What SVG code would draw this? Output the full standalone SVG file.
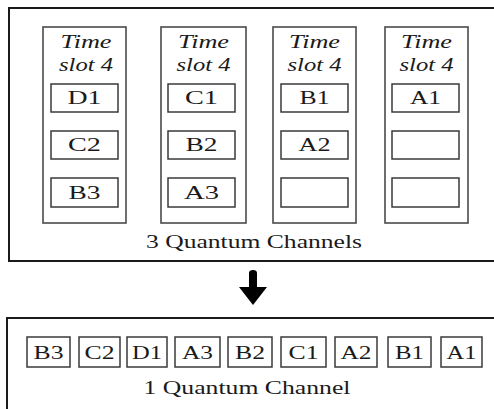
<svg xmlns="http://www.w3.org/2000/svg" width="494" height="409" viewBox="0 0 494 409">
<style>
.outer{fill:#fff;stroke:#1a1a1a;stroke-width:2}
.col{fill:#fff;stroke:#4a4a4a;stroke-width:1.6}
.cell{fill:#fff;stroke:#3a3a3a;stroke-width:1.5}
text{font-family:'Liberation Serif','Times New Roman','DejaVu Serif',serif;font-size:18px;fill:#1a1a1a;text-anchor:middle}
.it{font-style:italic}
</style>
<rect width="494" height="409" fill="#fff"/>
<g id="top-box">
<rect class="outer" x="9" y="8" width="500" height="253"/>
<text x="254" y="248" textLength="216" lengthAdjust="spacingAndGlyphs">3 Quantum Channels</text>
</g>
<g id="column-1">
<rect class="col" x="43" y="27" width="83" height="196"/>
<text class="it" x="86" y="48" textLength="51" lengthAdjust="spacingAndGlyphs">Time</text>
<text class="it" x="86" y="71" textLength="54" lengthAdjust="spacingAndGlyphs">slot 4</text>
<rect class="cell" x="51" y="84" width="67" height="28"/>
<text x="84.5" y="104" textLength="34" lengthAdjust="spacingAndGlyphs">D1</text>
<rect class="cell" x="51" y="131" width="67" height="28"/>
<text x="84.5" y="151" textLength="33" lengthAdjust="spacingAndGlyphs">C2</text>
<rect class="cell" x="51" y="178" width="67" height="29"/>
<text x="84.5" y="199" textLength="32" lengthAdjust="spacingAndGlyphs">B3</text>
</g>
<g id="column-2">
<rect class="col" x="161" y="27" width="85" height="196"/>
<text class="it" x="203.5" y="48" textLength="51" lengthAdjust="spacingAndGlyphs">Time</text>
<text class="it" x="203.5" y="71" textLength="54" lengthAdjust="spacingAndGlyphs">slot 4</text>
<rect class="cell" x="168" y="84" width="67" height="28"/>
<text x="201.5" y="104" textLength="33" lengthAdjust="spacingAndGlyphs">C1</text>
<rect class="cell" x="168" y="131" width="67" height="28"/>
<text x="201.5" y="151" textLength="32" lengthAdjust="spacingAndGlyphs">B2</text>
<rect class="cell" x="168" y="178" width="67" height="29"/>
<text x="201.5" y="199" textLength="35" lengthAdjust="spacingAndGlyphs">A3</text>
</g>
<g id="column-3">
<rect class="col" x="273" y="27" width="83" height="196"/>
<text class="it" x="314.5" y="48" textLength="51" lengthAdjust="spacingAndGlyphs">Time</text>
<text class="it" x="314.5" y="71" textLength="54" lengthAdjust="spacingAndGlyphs">slot 4</text>
<rect class="cell" x="281" y="84" width="67" height="28"/>
<text x="314.5" y="104" textLength="30" lengthAdjust="spacingAndGlyphs">B1</text>
<rect class="cell" x="281" y="131" width="67" height="28"/>
<text x="314.5" y="151" textLength="32" lengthAdjust="spacingAndGlyphs">A2</text>
<rect class="cell" x="281" y="178" width="67" height="29"/>
</g>
<g id="column-4">
<rect class="col" x="385" y="27" width="83" height="196"/>
<text class="it" x="426.5" y="48" textLength="51" lengthAdjust="spacingAndGlyphs">Time</text>
<text class="it" x="426.5" y="71" textLength="54" lengthAdjust="spacingAndGlyphs">slot 4</text>
<rect class="cell" x="392" y="84" width="67" height="28"/>
<text x="425.5" y="104" textLength="31" lengthAdjust="spacingAndGlyphs">A1</text>
<rect class="cell" x="392" y="131" width="67" height="28"/>
<rect class="cell" x="392" y="178" width="67" height="29"/>
</g>
<g id="bottom-box">
<rect class="outer" x="7" y="318" width="500" height="100"/>
<rect class="cell" x="27" y="337" width="43" height="30"/>
<text x="48.5" y="359" textLength="30" lengthAdjust="spacingAndGlyphs">B3</text>
<rect class="cell" x="79" y="337" width="41" height="30"/>
<text x="99.5" y="359" textLength="30" lengthAdjust="spacingAndGlyphs">C2</text>
<rect class="cell" x="127" y="337" width="40" height="30"/>
<text x="147" y="359" textLength="30" lengthAdjust="spacingAndGlyphs">D1</text>
<rect class="cell" x="175" y="337" width="45" height="30"/>
<text x="197.5" y="359" textLength="31" lengthAdjust="spacingAndGlyphs">A3</text>
<rect class="cell" x="228" y="337" width="44" height="30"/>
<text x="250" y="359" textLength="30" lengthAdjust="spacingAndGlyphs">B2</text>
<rect class="cell" x="281" y="337" width="45" height="30"/>
<text x="303.5" y="359" textLength="30" lengthAdjust="spacingAndGlyphs">C1</text>
<rect class="cell" x="335" y="337" width="42" height="30"/>
<text x="356" y="359" textLength="31" lengthAdjust="spacingAndGlyphs">A2</text>
<rect class="cell" x="388" y="337" width="43" height="30"/>
<text x="409.5" y="359" textLength="29" lengthAdjust="spacingAndGlyphs">B1</text>
<rect class="cell" x="441" y="337" width="41" height="30"/>
<text x="461.5" y="359" textLength="30" lengthAdjust="spacingAndGlyphs">A1</text>
<text x="247" y="394" textLength="207" lengthAdjust="spacingAndGlyphs">1 Quantum Channel</text>
</g>
<g id="connectors">
<path d="M249,273 Q249,270 253,270 Q257,270 257,273 L257,287 L267,287 L253,305 L239,287 L249,287 Z" fill="#000"/>
</g>
</svg>
